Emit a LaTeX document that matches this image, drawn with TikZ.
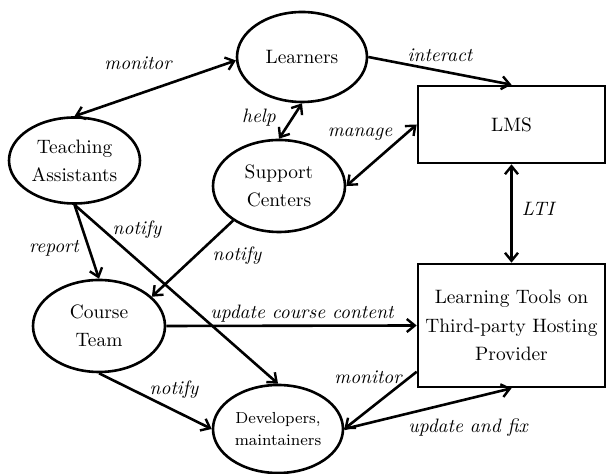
\documentclass[tikz,border=0pt]{standalone}
\usetikzlibrary{arrows.meta,shapes.geometric}
\tikzset{
  ent/.style={ellipse,draw,line width=1.3pt,inner sep=0pt,align=center,
    font=\fontsize{9.7}{14}\selectfont},
  sys/.style={rectangle,draw,line width=1.3pt,inner sep=0pt,align=center,
    font=\fontsize{9.7}{14.2}\selectfont},
  conn/.style={line width=1.3pt,-{Straight Barb[length=4pt,width=6.5pt,line width=1.2pt]}},
  dconn/.style={line width=1.3pt,{Straight Barb[length=4pt,width=6.5pt,line width=1.2pt]}-{Straight Barb[length=4pt,width=6.5pt,line width=1.2pt]}},
  lab/.style={font=\fontsize{9.7}{13}\selectfont\itshape,inner sep=0pt}
}
\begin{document}
\begin{tikzpicture}[x=0.5pt,y=-0.5pt]
\useasboundingbox (0,0) rectangle (606,474);
\node[ent,minimum width=65pt,minimum height=45pt] (L) at (302,57) {Learners};
\node[ent,minimum width=65.5pt,minimum height=43pt] (TA) at (74.5,160.5) {Teaching\\Assistants};
\node[ent,minimum width=66pt,minimum height=46pt] (SC) at (279,186) {Support\\Centers};
\node[ent,minimum width=66pt,minimum height=46pt] (CT) at (99,326) {Course\\Team};
\node[ent,minimum width=65pt,minimum height=44pt,font=\fontsize{8}{11}\selectfont] (D) at (278,429) {Developers,\\maintainers};
\node[sys,minimum width=93.5pt,minimum height=38.5pt] (LMS) at (511.5,124.5) {LMS};
\node[sys,minimum width=93.5pt,minimum height=61.5pt] (T) at (511.5,325.5) {Learning Tools on\\Third-party Hosting\\Provider};

\draw[dconn] (TA.north) -- (L.183);
\draw[conn] (L.east) -- (LMS.north);
\draw[dconn] (L.south) -- (SC.north);
\draw[dconn] (SC.east) -- (LMS.west);
\draw[dconn] (LMS.south) -- (T.north);
\draw[conn] (TA.south) -- (CT.north);
\draw[conn] (TA.south) -- (D.north);
\draw[conn] (SC.217) -- (CT.29);
\draw[conn] (CT.east) -- (T.west);
\draw[conn] (CT.south) -- (D.west);
\draw[conn] (T.206) -- (D.east);
\draw[conn] (D.east) -- (T.south);

\node[lab] (l1) at (138,63) {monitor};
\node[lab] (l2) at (440,55) {interact};
\node[lab] (l3) at (259,118) {help};
\node[lab] (l4) at (360,134) {manage};
\node[lab] (l5) at (538,209) {LTI};
\node[lab] (l6) at (54,248) {report};
\node[lab] (l7) at (137,230) {notify};
\node[lab] (l8) at (237,256) {notify};
\node[lab] (l9) at (302,314) {update course content};
\node[lab] (l10) at (174,390) {notify};
\node[lab] (l11) at (368,377) {monitor};
\node[lab] (l12) at (468,428) {update and fix};
\end{tikzpicture}
\end{document}
